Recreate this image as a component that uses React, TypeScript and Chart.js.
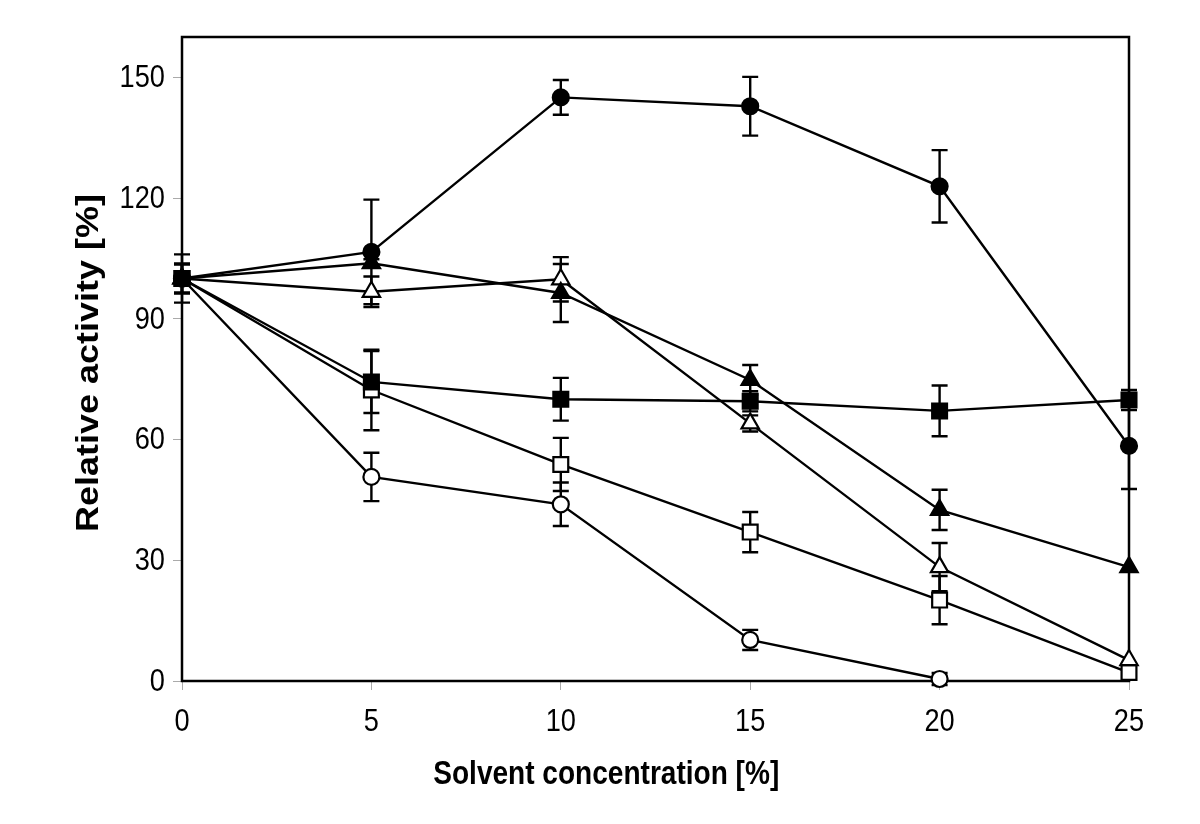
import React, { useEffect, useRef } from "react";
import { Chart, registerables } from "chart.js";

Chart.register(...registerables);

const concentrations = [0, 5, 10, 15, 20, 25];
const xTicks = [0, 5, 10, 15, 20, 25];
const yTicks = [0, 30, 60, 90, 120, 150];

const filledCircle = [100, 106.6, 145, 142.8, 122.9, 58.4];
const filledCircleErr = [6, 13, 4.3, 7.3, 9, 10.7];
const filledTriangle = [100, 103.8, 96.4, 74.8, 42.5, 28.3];
const filledTriangleErr = [3.6, 1, 7.2, 3.7, 5, 0];
const openTriangle = [100, 96.7, 99.8, 64.0, 28.3, 5.2];
const openTriangleErr = [3.6, 3.8, 5.5, 2, 6, 0];
const filledSquare = [100, 74.3, 70.0, 69.5, 67.1, 69.8];
const filledSquareErr = [3.6, 7.7, 5.3, 2.5, 6.3, 2.5];
const openSquare = [100, 72.3, 53.8, 37.0, 20.1, 2.1];
const openSquareErr = [3.6, 10, 6.6, 5, 6, 1];
const openCircle = [100, 50.7, 43.9, 10.2, 0.5];
const openCircleErr = [3.6, 6, 5.4, 2.5, 1.5];

const xTitle = "Solvent concentration [%]";
const yTitle = "Relative activity [%]";

const FONT = "'Liberation Sans', Arial, sans-serif";
const SQUEEZE = 0.85;

type S = {
  label: string;
  values: number[];
  errs: number[];
  style: string;
  filled: boolean;
  radius: number;
};

const seriesList: S[] = [
  { label: "filled circle", values: filledCircle, errs: filledCircleErr, style: "circle", filled: true, radius: 8 },
  { label: "filled square", values: filledSquare, errs: filledSquareErr, style: "rect", filled: true, radius: 10.5 },
  { label: "filled triangle", values: filledTriangle, errs: filledTriangleErr, style: "triangle", filled: true, radius: 10 },
  { label: "open triangle", values: openTriangle, errs: openTriangleErr, style: "triangle", filled: false, radius: 10 },
  { label: "open square", values: openSquare, errs: openSquareErr, style: "rect", filled: false, radius: 10.5 },
  { label: "open circle", values: openCircle, errs: openCircleErr, style: "circle", filled: false, radius: 8 },
];

function squeezedText(ctx: CanvasRenderingContext2D, text: string, x: number, y: number, align: CanvasTextAlign) {
  ctx.save();
  ctx.translate(x, y);
  ctx.scale(SQUEEZE, 1);
  ctx.textAlign = align;
  ctx.textBaseline = "middle";
  ctx.fillText(text, 0, 0);
  ctx.restore();
}

const framePlugin = {
  id: "frameAndErrors",
  beforeDatasetsDraw(chart: any) {
    const { ctx, chartArea, scales } = chart;
    ctx.save();
    ctx.strokeStyle = "#000";
    ctx.lineWidth = 2.5;
    ctx.strokeRect(chartArea.left, chartArea.top, chartArea.right - chartArea.left, chartArea.bottom - chartArea.top);
    ctx.lineWidth = 2.4;
    const cap = 8;
    seriesList.forEach((s) => {
      s.values.forEach((v, i) => {
        const e = s.errs[i];
        if (!e) return;
        const x = scales.x.getPixelForValue(concentrations[i]);
        const y1 = scales.y.getPixelForValue(v + e);
        const y2 = scales.y.getPixelForValue(v - e);
        ctx.beginPath();
        ctx.moveTo(x, y1);
        ctx.lineTo(x, y2);
        ctx.moveTo(x - cap, y1);
        ctx.lineTo(x + cap, y1);
        ctx.moveTo(x - cap, y2);
        ctx.lineTo(x + cap, y2);
        ctx.stroke();
      });
    });
    ctx.restore();
  },
  afterDraw(chart: any) {
    const { ctx, chartArea, scales } = chart;
    ctx.save();
    ctx.fillStyle = "#000";
    ctx.font = `32px ${FONT}`;
    xTicks.forEach((v) => {
      squeezedText(ctx, String(v), scales.x.getPixelForValue(v), chartArea.bottom + 41, "center");
    });
    yTicks.forEach((v) => {
      squeezedText(ctx, String(v), chartArea.left - 17, scales.y.getPixelForValue(v) + 1, "right");
    });
    ctx.font = `bold 33px ${FONT}`;
    squeezedText(ctx, xTitle, chartArea.left + (chartArea.right - chartArea.left) * 0.448, 775, "center");
    // y title: stretched along its length, compressed across it
    ctx.save();
    ctx.font = `bold 36px ${FONT}`;
    ctx.translate(98, 363);
    ctx.rotate(-Math.PI / 2);
    ctx.scale(1, SQUEEZE);
    ctx.textAlign = "center";
    ctx.textBaseline = "alphabetic";
    ctx.fillText(yTitle, 0, 0);
    ctx.restore();
    ctx.restore();
  },
};

export default function App() {
  const ref = useRef<HTMLCanvasElement | null>(null);
  useEffect(() => {
    document.body.style.margin = "0";
    const canvas = ref.current!;
    const chart = new Chart(canvas, {
      type: "line",
      data: {
        datasets: seriesList.map((s) => ({
          label: s.label,
          data: s.values.map((v, i) => ({ x: concentrations[i], y: v })),
          borderColor: "#000",
          borderWidth: 2.4,
          backgroundColor: s.filled ? "#000" : "#fff",
          pointStyle: s.style as any,
          pointRadius: s.radius,
          pointHoverRadius: s.radius,
          pointBorderWidth: 2.2,
          pointBorderColor: "#000",
          pointBackgroundColor: s.filled ? "#000" : "#fff",
          tension: 0,
          fill: false,
          clip: false as any,
        })),
      },
      options: {
        animation: false,
        responsive: false,
        layout: { padding: { left: 0, top: 37, right: 71, bottom: 0 } },
        plugins: { legend: { display: false }, tooltip: { enabled: false }, title: { display: false } },
        scales: {
          x: {
            type: "linear",
            min: 0,
            max: 25,
            afterBuildTicks: (s: any) => {
              s.ticks = xTicks.map((v) => ({ value: v }));
            },
            afterFit: (s: any) => {
              s.height = 824 - 681;
            },
            grid: { display: true, drawOnChartArea: false, drawTicks: true, tickLength: 9, tickColor: "#aaa", tickWidth: 1 },
            border: { display: false },
            ticks: { display: false },
          },
          y: {
            type: "linear",
            min: 0,
            max: 160,
            afterBuildTicks: (s: any) => {
              s.ticks = yTicks.map((v) => ({ value: v }));
            },
            afterFit: (s: any) => {
              s.width = 182;
            },
            grid: { display: true, drawOnChartArea: false, drawTicks: true, tickLength: 9, tickColor: "#aaa", tickWidth: 1 },
            border: { display: false },
            ticks: { display: false },
          },
        },
      },
      plugins: [framePlugin],
    });
    return () => chart.destroy();
  }, []);
  return (
    <div style={{ position: "fixed", left: 0, top: 0, width: 1200, height: 824, background: "#fff" }}>
      <canvas ref={ref} width={1200} height={824} />
    </div>
  );
}
